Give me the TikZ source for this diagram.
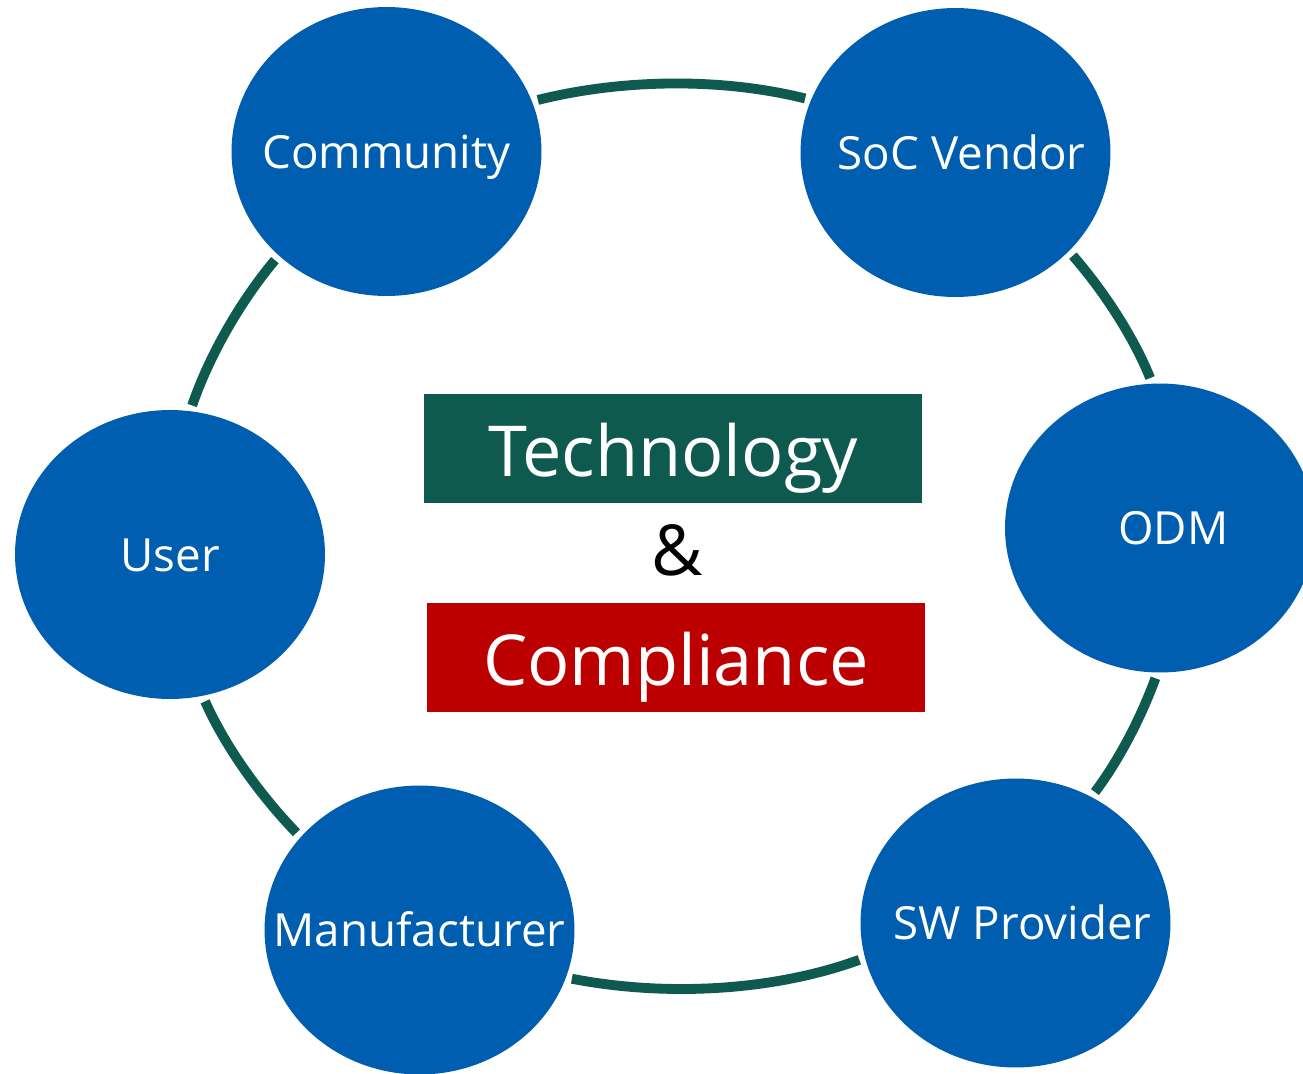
\documentclass[tikz,border=0pt]{standalone}
\usepackage{fontspec}
\setmainfont{Open Sans}
\usetikzlibrary{shapes.geometric}
\definecolor{party_blue}{RGB}{0, 94, 176}
\definecolor{cyc_green}{RGB}{15, 90, 78}
\definecolor{cmp_red}{RGB}{188, 0, 0}
\tikzstyle{party}=[ellipse,fill=party_blue,text=white,inner xsep=-2cm,inner ysep=0pt,
  outer sep=0pt,minimum width=6.2cm,minimum height=5.78cm,text height=18.8pt,
  text depth=0pt,font=\fontsize{26}{30}\selectfont]
\tikzstyle{cyc}=[draw=cyc_green,line width=5.6pt,shorten >=3.5pt,shorten <=3.5pt,
  looseness=0.85]
\tikzstyle{banner}=[text=white,inner sep=0pt,outer sep=0pt,minimum width=9.96cm,
  minimum height=2.18cm,text height=32.4pt,text depth=0pt,font=\fontsize{40}{48}\selectfont]
\tikzstyle{amp}=[anchor=base,inner sep=0pt,font=\fontsize{40}{48}\selectfont]

\begin{document}
\begin{tikzpicture}[x=0.02cm,y=-0.02cm]
            \useasboundingbox (0, 0) rectangle (1303, 1073);
            \clip (0, 0) rectangle (1303, 1073);
            \node [style=party] (comm) at (386.5, 151.5) {Community};
            \node [style=party] (soc) at (955.5, 152.5) {\hspace*{7pt}SoC Vendor};
            \node [style=party] (odm) at (1160, 528) {\hspace*{15pt}ODM};
            \node [style=party] (sw) at (1015.5, 923) {\hspace*{8pt}SW Provider};
            \node [style=party] (manu) at (419.5, 930) {Manufacturer};
            \node [style=party] (user) at (170, 554.5) {User};
            \node [style=banner, fill=cyc_green] (tech) at (673, 448.5) {Technology};
            \node [style=amp] (and) at (677, 575) {\&};
            \node [style=banner, fill=cmp_red] (comp) at (676, 657) {Compliance};
            \draw [style=cyc] (user.82) to[out=71, in=-130] (comm.-136);
            \draw [style=cyc] (comm.19) to[out=14, in=166] (soc.160);
            \draw [style=cyc] (soc.-41) to[out=-49, in=112] (odm.93);
            \draw [style=cyc] (odm.-91) to[out=-110, in=53] (sw.59);
            \draw [style=cyc] (sw.193) to[out=-160, in=-11] (manu.-18);
            \draw [style=cyc] (manu.142) to[out=134, in=-66] (user.-77);
    \end{tikzpicture}
\end{document}
